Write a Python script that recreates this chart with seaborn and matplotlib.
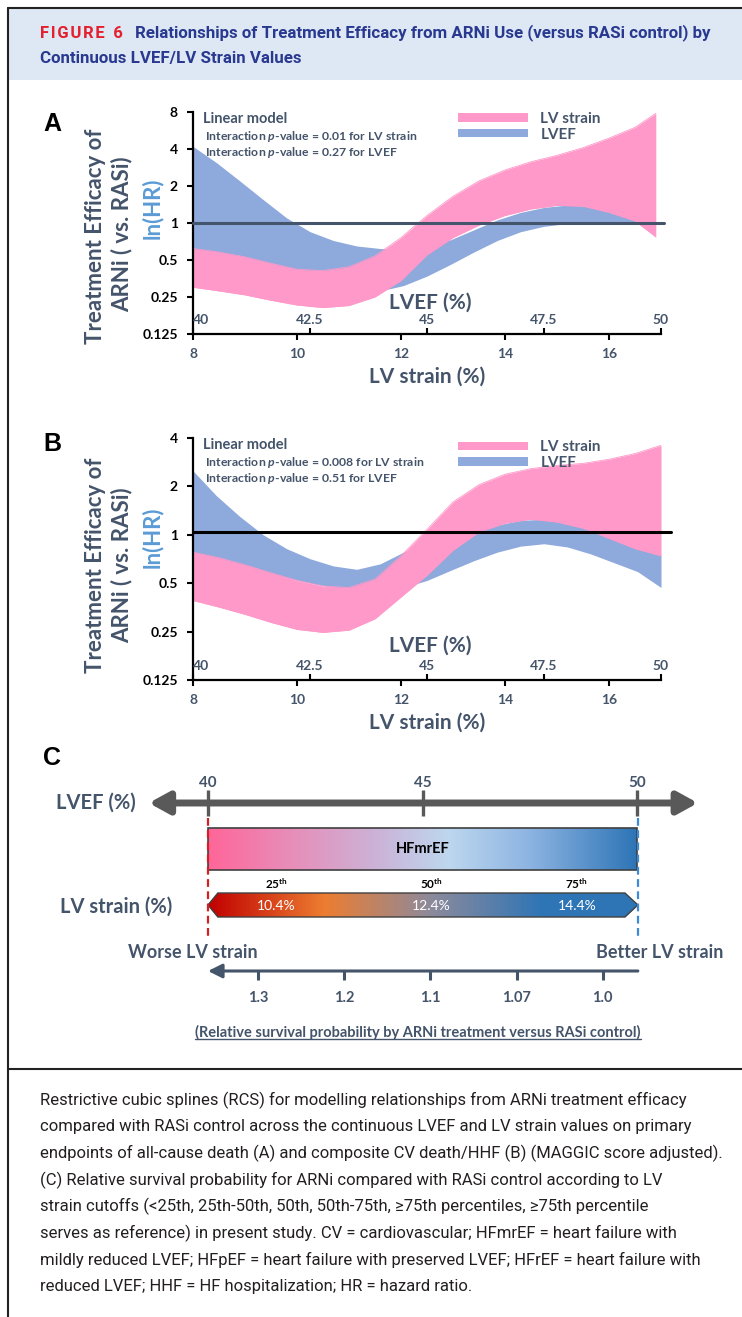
import numpy as np
import matplotlib
matplotlib.use("Agg")
import matplotlib.pyplot as plt
import seaborn as sns
from matplotlib.patches import Patch, Rectangle, Polygon
from matplotlib.colors import LinearSegmentedColormap
from matplotlib.ticker import NullLocator

# ---------------- data ----------------
# Panel A (all-cause death)
A_strain_x = [8, 8.5, 9, 9.5, 10, 10.5, 11, 11.5, 12, 12.5, 13, 13.5, 14, 14.5, 15, 15.5, 16, 16.5, 16.9]
A_strain_up = [0.62, 0.58, 0.53, 0.47, 0.42, 0.41, 0.44, 0.54, 0.76, 1.15, 1.65, 2.2, 2.7, 3.15, 3.55, 4.1, 4.9, 6.0, 7.8]
A_strain_lo = [0.30, 0.28, 0.26, 0.235, 0.215, 0.205, 0.213, 0.25, 0.34, 0.55, 0.76, 0.96, 1.15, 1.3, 1.39, 1.37, 1.22, 1.04, 0.77]
lvef_x = [40, 40.5, 41, 41.5, 42, 42.5, 43, 43.5, 44, 44.5, 45, 45.5, 46, 46.5, 47, 47.5, 48, 48.5, 49, 49.5, 50]
A_lvef_up = [4.2, 3.1, 2.2, 1.55, 1.1, 0.85, 0.72, 0.65, 0.62, 0.61, 0.64, 0.73, 0.88, 1.06, 1.22, 1.34, 1.4, 1.36, 1.22, 1.06, 0.99]
A_lvef_lo = [0.5, 0.49, 0.48, 0.46, 0.42, 0.37, 0.32, 0.29, 0.28, 0.31, 0.37, 0.46, 0.58, 0.72, 0.85, 0.94, 0.99, 1.0, 1.0, 0.99, 0.98]
# Panel B (CV death / HHF)
B_strain_x = [8, 8.5, 9, 9.5, 10, 10.5, 11, 11.5, 12, 12.5, 13, 13.5, 14, 14.5, 15, 15.5, 16, 16.5, 17]
B_strain_up = [0.78, 0.72, 0.65, 0.58, 0.52, 0.48, 0.47, 0.53, 0.74, 1.08, 1.6, 2.05, 2.38, 2.58, 2.7, 2.78, 2.95, 3.2, 3.6]
B_strain_lo = [0.39, 0.355, 0.32, 0.285, 0.258, 0.247, 0.255, 0.30, 0.41, 0.56, 0.8, 1.04, 1.18, 1.25, 1.2, 1.1, 0.95, 0.82, 0.74]
B_lvef_up = [2.5, 1.75, 1.3, 1.0, 0.82, 0.71, 0.64, 0.61, 0.66, 0.78, 0.9, 0.98, 1.05, 1.15, 1.23, 1.25, 1.18, 1.07, 0.93, 0.82, 0.75]
B_lvef_lo = [0.75, 0.7, 0.64, 0.58, 0.54, 0.5, 0.47, 0.455, 0.45, 0.47, 0.52, 0.6, 0.69, 0.78, 0.85, 0.88, 0.84, 0.76, 0.67, 0.59, 0.47]

A_yticks = [0.125, 0.25, 0.5, 1, 2, 4, 8]
A_yticklabels = ["0.125", "0.25", "0.5", "1", "2", "4", "8"]
B_yticks = [0.125, 0.25, 0.5, 1, 2, 4]
B_yticklabels = ["0.125", "0.25", "0.5", "1", "2", "4"]
strain_ticks = [8, 10, 12, 14, 16]
strain_ticklabels = ["8", "10", "12", "14", "16"]
lvef_ticks = [40, 42.5, 45, 47.5, 50]
lvef_ticklabels = ["40", "42.5", "45", "47.5", "50"]
A_ref = 1.0
B_ref = 1.04
A_pvals = ["0.01", "0.27"]
B_pvals = ["0.008", "0.51"]

# Panel C
C_lvef_ticks = [40, 45, 50]
C_lvef_labels = ["40", "45", "50"]
C_pct = ["25", "50", "75"]
C_strain_vals = ["10.4%", "12.4%", "14.4%"]
C_survival = ["1.3", "1.2", "1.1", "1.07", "1.0"]

caption = [
    "Restrictive cubic splines (RCS) for modelling relationships from ARNi treatment efficacy",
    "compared with RASi control across the continuous LVEF and LV strain values on primary",
    "endpoints of all-cause death (A) and composite CV death/HHF (B) (MAGGIC score adjusted).",
    "(C) Relative survival probability for ARNi compared with RASi control according to LV",
    "strain cutoffs (<25th, 25th-50th, 50th, 50th-75th, \u226575th percentiles, \u226575th percentile",
    "serves as reference) in present study. CV = cardiovascular; HFmrEF = heart failure with",
    "mildly reduced LVEF; HFpEF = heart failure with preserved LVEF; HFrEF = heart failure with",
    "reduced LVEF; HHF = HF hospitalization; HR = hazard ratio.",
]

# ---------------- style ----------------
sns.set_theme(style="ticks")
plt.rcParams['font.family'] = ['Lato', 'DejaVu Sans']
plt.rcParams['mathtext.fontset'] = 'custom'
plt.rcParams['mathtext.rm'] = 'Lato'
plt.rcParams['mathtext.it'] = 'Lato:italic:bold'
plt.rcParams['mathtext.bf'] = 'Lato:bold'

PINK = '#FF99C9'
BLUE = '#8EA9DB'
SLATE = '#44546A'
LNBLUE = '#5B9BD5'

W, H = 742, 1317
fig = plt.figure(figsize=(W / 100, H / 100), dpi=100)
fig.patch.set_facecolor('white')


def fpos(x0, y0, x1, y1):
    return [x0 / W, 1 - y1 / H, (x1 - x0) / W, (y1 - y0) / H]


def fx(px):
    return px / W


def fy(py):
    return 1 - py / H


# background / frame
bg = fig.add_axes([0, 0, 1, 1])
bg.set_xlim(0, W)
bg.set_ylim(H, 0)
bg.axis('off')
bg.add_patch(Rectangle((9, 9), W - 9, 71, facecolor='#DDE8F4', edgecolor='none'))
bg.plot([8, W], [8, 8], color='#222222', lw=1.5)
bg.plot([8, 8], [8, H], color='#222222', lw=1.5)
bg.plot([8, W], [1069, 1069], color='#222222', lw=1.5)

fig.text(fx(40), fy(33), "F\u200aI\u200aG\u200aU\u200aR\u200aE\u20026", color='#E4202E', fontsize=12, fontweight='bold',
         family=['Roboto', 'DejaVu Sans'], va='center', ha='left')
fig.text(fx(135), fy(33), "Relationships of Treatment Efficacy from ARNi Use (versus RASi control) by",
         color='#2A3990', fontsize=12.2, fontweight='bold', family=['Roboto', 'DejaVu Sans'], va='center', ha='left')
fig.text(fx(40), fy(58), "Continuous LVEF/LV Strain Values",
         color='#2A3990', fontsize=12.2, fontweight='bold', family=['Roboto', 'DejaVu Sans'], va='center', ha='left')


def draw_panel(box, sx, s_up, s_lo, s_lvef_up, s_lvef_lo, yt, ytl, ref, refcolor, ref_end, pvals, leg_y):
    ax = fig.add_axes(fpos(*box))
    ax.set_facecolor('none')
    ax.set_yscale('log', base=2)
    ax.set_xlim(8, 17)
    ax.set_ylim(yt[0], yt[-1])
    ax2 = ax.twiny()
    ax2.set_xlim(40, 50)
    ax2.set_facecolor('none')
    # bands
    ax.fill_between(lvef_x, s_lvef_lo, s_lvef_up, color=BLUE, lw=0, zorder=1, transform=ax2.transData)
    ax.fill_between(sx, s_lo, s_up, color=PINK, lw=0, zorder=2)
    sns.lineplot(x=sx, y=s_up, ax=ax, color=PINK, lw=0.6, zorder=2, legend=False)
    sns.lineplot(x=sx, y=s_lo, ax=ax, color=PINK, lw=0.6, zorder=2, legend=False)
    ax.plot([8, ref_end], [ref, ref], color=refcolor, lw=2.2, zorder=3, clip_on=False)
    ax.set_xlabel("")
    ax.set_ylabel("")
    # spines
    for s in ['top', 'right']:
        ax.spines[s].set_visible(False)
    for s in ['left', 'bottom']:
        ax.spines[s].set_color('black')
        ax.spines[s].set_linewidth(1.6)
    for s in ax2.spines.values():
        s.set_visible(False)
    ax2.spines['top'].set_position(('axes', 0))
    # ticks
    ax.set_yticks(yt, labels=ytl, fontweight='bold', color='black', fontsize=10)
    ax.yaxis.set_minor_locator(NullLocator())
    ax.set_xticks(strain_ticks, labels=strain_ticklabels, fontweight='bold', color=SLATE, fontsize=10)
    ax.tick_params(axis='both', direction='out', length=4, width=1.5, color='black')
    ax.tick_params(axis='y', pad=7)
    ax.tick_params(axis='x', pad=6)
    ax2.set_xticks(lvef_ticks, labels=lvef_ticklabels, color=SLATE, fontsize=10, fontweight='bold')
    ax2.tick_params(axis='x', top=True, labeltop=True, bottom=False, labelbottom=False,
                    direction='out', length=4, width=1.5, color='black', pad=2)
    ax2.get_xticklabels()[0].set_horizontalalignment('left')
    ax.set_xlabel("LV strain (%)", fontsize=15, fontweight='bold', color=SLATE, labelpad=5)
    ax.text(0.506, 0.14, "LVEF (%)", transform=ax.transAxes, fontsize=15, fontweight='bold',
            color=SLATE, ha='center', va='center', zorder=4)
    # annotation text
    x0 = box[0]
    y0, y1 = box[1], box[3]
    hgt = y1 - y0
    ty = [(y1 - (y0 + 7)) / hgt, (y1 - (y0 + 25)) / hgt, (y1 - (y0 + 41)) / hgt]
    ax.text(10 / (box[2] - x0), ty[0], "Linear model", transform=ax.transAxes, fontsize=10.5,
            fontweight='bold', color=SLATE, va='center', ha='left')
    ax.text(12 / (box[2] - x0), ty[1], "Interaction $p$-value = %s for LV strain" % pvals[0],
            transform=ax.transAxes, fontsize=8.8, fontweight='bold', color=SLATE, va='center', ha='left')
    ax.text(12 / (box[2] - x0), ty[2], "Interaction $p$-value = %s for LVEF" % pvals[1],
            transform=ax.transAxes, fontsize=8.8, fontweight='bold', color=SLATE, va='center', ha='left')
    handles = [Patch(facecolor=PINK, edgecolor='none', label='LV strain'),
               Patch(facecolor=BLUE, edgecolor='none', label='LVEF')]
    leg = ax.legend(handles=handles, loc='upper left', bbox_to_anchor=(0.566, leg_y), frameon=False,
                    borderpad=0, borderaxespad=0, handlelength=4.6, handleheight=0.45,
                    handletextpad=0.8, labelspacing=0.1, prop={'weight': 'bold', 'size': 11})
    for t in leg.get_texts():
        t.set_color(SLATE)
    return ax


axA = draw_panel((193, 112, 661, 334), A_strain_x, A_strain_up, A_strain_lo, A_lvef_up, A_lvef_lo,
                 A_yticks, A_yticklabels, A_ref, SLATE, 17.05, A_pvals, 1.0)
axB = draw_panel((193, 438, 661, 680), B_strain_x, B_strain_up, B_strain_lo, B_lvef_up, B_lvef_lo,
                 B_yticks, B_yticklabels, B_ref, 'black', 17.2, B_pvals, 0.99)

# y-axis label texts
for (cy1, cy2, cy3), in [((236, 234, 208),), ((565, 565, 537),)]:
    fig.text(fx(95), fy(cy1), "Treatment Efficacy of", rotation=90, fontsize=16, fontweight='bold',
             color=SLATE, ha='center', va='center')
    fig.text(fx(122), fy(cy2), "ARNi ( vs. RASi)", rotation=90, fontsize=16, fontweight='bold',
             color=SLATE, ha='center', va='center')
    fig.text(fx(152), fy(cy3), "ln(HR)", rotation=90, fontsize=16, fontweight='bold',
             color=LNBLUE, ha='center', va='center')

for lab, (px, py) in zip(["A", "B", "C"], [(52, 124), (52, 444), (52, 758)]):
    fig.text(fx(px), fy(py), lab, fontsize=18, fontweight='bold', color='black',
             family=['Liberation Sans', 'DejaVu Sans'], ha='center', va='center')

# ---------------- Panel C ----------------
axC = fig.add_axes(fpos(30, 740, 742, 1060))
axC.set_facecolor('none')
axC.set_xlim(40 + (30 - 208) / 42.9, 40 + (742 - 208) / 42.9)
axC.set_ylim(1060, 740)
axC.axis('off')

GRAY = '#595959'
axC.annotate('', xy=(38.62, 803), xytext=(51.42, 803),
             arrowprops=dict(arrowstyle='<|-|>,head_length=1.0,head_width=0.55', mutation_scale=12,
                             lw=5, color=GRAY, shrinkA=0, shrinkB=0))
for t, lab in zip(C_lvef_ticks, C_lvef_labels):
    axC.plot([t, t], [790, 816], color=GRAY, lw=2.4, solid_capstyle='butt')
    axC.text(t, 783, lab, ha='center', va='center', fontsize=11, fontweight='bold', color=SLATE)
axC.text(40 + (96 - 208) / 42.9, 803, "LVEF (%)", ha='center', va='center', fontsize=14.5,
         fontweight='bold', color=SLATE)
axC.text(40 + (116 - 208) / 42.9, 907, "LV strain (%)", ha='center', va='center', fontsize=14.5,
         fontweight='bold', color=SLATE)

# HFmrEF gradient bar
cm1 = LinearSegmentedColormap.from_list('hf', [(0, '#FF6699'), (0.2, '#E68FBA'), (0.4, '#CBB4D8'),
                                               (0.56, '#BDD7EE'), (0.75, '#8DB4E2'), (1, '#2E75B6')])
grad = np.linspace(0, 1, 256).reshape(1, -1)
axC.imshow(grad, cmap=cm1, extent=(C_lvef_ticks[0], C_lvef_ticks[-1], 870, 828), aspect='auto', zorder=1)
axC.add_patch(Rectangle((C_lvef_ticks[0], 828), C_lvef_ticks[-1] - C_lvef_ticks[0], 42, facecolor='none',
                        edgecolor='#404040', lw=1.2, zorder=2))
axC.text(45, 849, "HFmrEF", ha='center', va='center', fontsize=10.5, fontweight='bold', color='black', zorder=3)

# strain gradient double arrow
cm2 = LinearSegmentedColormap.from_list('st', [(0, '#C00000'), (0.27, '#ED7D31'), (0.52, '#8C8A9C'),
                                               (0.78, '#2E75B6'), (1, '#2E75B6')])
poly = Polygon([(40, 905), (40.23, 893), (49.72, 893), (50.02, 905), (49.72, 917), (40.23, 917)],
               closed=True, facecolor='none', edgecolor='#404040', lw=1.0, zorder=3)
axC.add_patch(poly)
im2 = axC.imshow(grad, cmap=cm2, extent=(40, 50.02, 917, 893), aspect='auto', zorder=2)
im2.set_clip_path(poly)
pct_pos = [41.6, 45.2, 48.6]
for p, lab, val in zip(pct_pos, C_pct, C_strain_vals):
    axC.text(p, 884, lab + r'$^{\mathbf{th}}$', ha='center', va='center', fontsize=8.5,
             fontweight='bold', color='black')
    axC.text(p, 906, val, ha='center', va='center', fontsize=10, color='white', zorder=4)

# dashed guide lines
axC.plot([40, 40], [818, 936], color='#D42020', lw=1.6, ls=(0, (3.5, 2)), zorder=4)
axC.plot([50.02, 50.02], [818, 936], color='#3D8AD6', lw=1.6, ls=(0, (3.5, 2)), zorder=4)

axC.text(40 + (193 - 208) / 42.9, 953, "Worse LV strain", ha='center', va='center', fontsize=13,
         fontweight='bold', color=SLATE)
axC.text(40 + (660 - 208) / 42.9, 953, "Better LV strain", ha='center', va='center', fontsize=13,
         fontweight='bold', color=SLATE)

# survival axis
axC.annotate('', xy=(40, 971), xytext=(50.02, 971),
             arrowprops=dict(arrowstyle='-|>,head_length=0.7,head_width=0.35', mutation_scale=12,
                             lw=2.2, color=SLATE, shrinkA=0, shrinkB=0))
surv_pos = np.linspace(41.17, 49.2, len(C_survival))
for p, lab in zip(surv_pos, C_survival):
    axC.plot([p, p], [971, 980], color=SLATE, lw=2.2, solid_capstyle='butt')
    axC.text(p, 998, lab, ha='center', va='center', fontsize=10.5, fontweight='bold', color=SLATE)
ut = axC.text(40 + (418 - 208) / 42.9, 1032, "(Relative survival probability by ARNi treatment versus RASi control)",
              ha='center', va='center', fontsize=10.5, fontweight='bold', color=SLATE)
fig.canvas.draw()
bb = ut.get_window_extent(renderer=fig.canvas.get_renderer())
inv = axC.transData.inverted()
(ux0, uy0), (ux1, uy1) = inv.transform([(bb.x0, bb.y0), (bb.x1, bb.y0)])
axC.plot([ux0, ux1], [uy0 - 1, uy0 - 1], color=SLATE, lw=1.0)

# caption
for i, line in enumerate(caption):
    fig.text(fx(40), fy(1100 + i * 26.7), line, fontsize=12, color='#231F20',
             family=['Roboto', 'DejaVu Sans'], ha='left', va='center')

fig.savefig('out.png', dpi=100)
